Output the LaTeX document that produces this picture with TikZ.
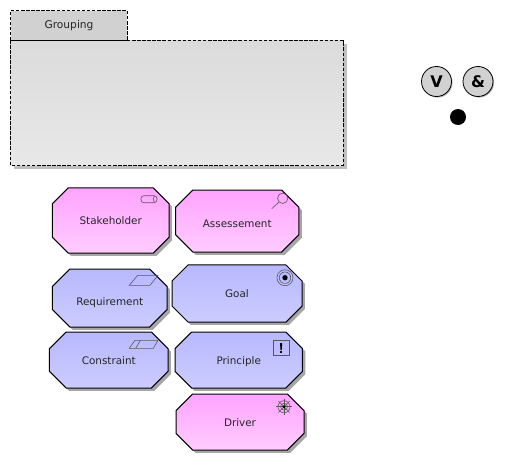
\documentclass[tikz,border=0pt]{standalone}
\usepackage{fontspec}
\setmainfont{DejaVu Sans}
\usetikzlibrary{positioning}
\usetikzlibrary{shapes.misc,shadows}
\definecolor{pinktop}{HTML}{FFA3FF}
\definecolor{pinkbot}{HTML}{FFCCFF}
\definecolor{bluetop}{HTML}{B8B8FF}
\definecolor{bluebot}{HTML}{CCCCFF}
\tikzset{element/.style={
        draw=black,
        chamfered rectangle,
        chamfered rectangle xsep=6pt,
        chamfered rectangle ysep=7pt,
        line width=0.75pt,
        inner sep=0pt,
        outer sep=0pt,
        text height=9pt,
        text depth=2pt,
        text=black!85,
        font=\fontsize{7.8}{9}\selectfont,
        drop shadow={shadow xshift=2.2pt,shadow yshift=-2.2pt,fill=black,opacity=0.35} } }
\tikzset{business/.style={element, top color=pinktop, bottom color=pinkbot} }
\tikzset{motive/.style={element, top color=bluetop, bottom color=bluebot} }
\tikzset{junction/.style={
        draw=black,
        circle,
        fill=black!18,
        line width=0.6pt,
        minimum size=22.5pt,
        inner sep=0pt,
        font=\fontsize{12}{14}\selectfont\bfseries,
        drop shadow={shadow xshift=0.8pt,shadow yshift=-0.8pt,fill=black,opacity=0.3} } }
\tikzset{icon/.style={draw=black!65, line width=0.45pt} }

\begin{document}
\begin{tikzpicture}[x=0.75pt,y=-0.75pt]
\useasboundingbox (0,0) rectangle (505,464);

% grouping
\fill[black!25] (14,44) rectangle (347,169);
\fill[top color=black!14, bottom color=black!9] (10.5,40.5) rectangle (343,165.5);
\fill[black!18] (10.5,10.5) rectangle (127,40.5);
\draw[dash pattern=on 2.6pt off 1.2pt, line width=0.6pt]
    (10.5,40.5) -- (10.5,10.5) -- (127,10.5) -- (127,40.5);
\draw[dash pattern=on 2.6pt off 1.2pt, line width=0.6pt]
    (127,40.5) -- (343,40.5) -- (343,165.5) -- (10.5,165.5) -- (10.5,40.5);
\draw[line width=0.6pt] (10.5,40.5) -- (127,40.5);
\node[font=\fontsize{8}{9}\selectfont, text=black!85] (grouping) at (69,26) {Grouping};

% junctions
\node[junction] (orjunction) at (436.5,81.5) {V};
\node[junction] (andjunction) at (478,81.5) {\&};
\node[circle, fill=black, minimum size=12pt, inner sep=0pt] (dotjunction) at (458,117) {};

% elements
\node[business, minimum width=87.4pt, minimum height=48.8pt] (stakeholder) at (110.75,220.5) [text height=7.5pt] {Stakeholder};
\node[business, minimum width=92.6pt, minimum height=46.5pt] (assessement) at (237.25,221) [text height=12pt] {Assessement};
\node[motive, minimum width=85.9pt, minimum height=43.5pt] (requirement) at (109.75,298) [text height=13.5pt] {Requirement};
\node[motive, minimum width=88.9pt, minimum height=42pt] (constraint) at (108.75,360) {Constraint};
\node[motive, minimum width=97.5pt, minimum height=42.8pt] (goal) at (237,293.5) [text height=8pt] {Goal};
\node[motive, minimum width=95.6pt, minimum height=42pt] (principle) at (238.75,360) {Principle};
\node[business, minimum width=96pt, minimum height=42pt] (driver) at (240,422) {Driver};

% icons
\draw[icon, rounded corners=2.2pt] (141,195.7) rectangle (157,202.7);
\draw[icon] (154.5,195.7) .. controls (152.8,197.5) and (152.8,201) .. (154.5,202.7);
\draw[icon] (282.7,198.3) circle (3.9pt);
\draw[icon] (279,202) -- (271.7,208.7);
\draw[icon] (129.3,285.3) -- (137.7,275.3) -- (158,275.3) -- (150,285.3) -- cycle;
\draw[icon] (129.3,348.3) -- (135,340.3) -- (158,340.3) -- (153.3,348.3) -- cycle;
\draw[icon] (140.5,340.3) -- (135.7,348.3);
\draw[icon] (285,277.7) circle (6pt);
\draw[icon] (285,277.7) circle (4.3pt);
\fill[black] (285,277.7) circle (2pt);
\draw[icon] (273.3,340.7) rectangle (289,355.7);
\fill[black] (280,343) -- (282.2,343) -- (281.7,350) -- (280.5,350) -- cycle;
\fill[black] (280,351.2) rectangle (282.2,353.4);
\draw[icon] (284,406.7) circle (4.5pt);
\draw[icon] (284,406.7) circle (2.6pt);
\foreach \ang in {0,45,...,315}
    \draw[icon] (284,406.7) -- ++(\ang:6pt);
\fill[black] (284,406.7) circle (1.2pt);

\end{tikzpicture}
\end{document}
